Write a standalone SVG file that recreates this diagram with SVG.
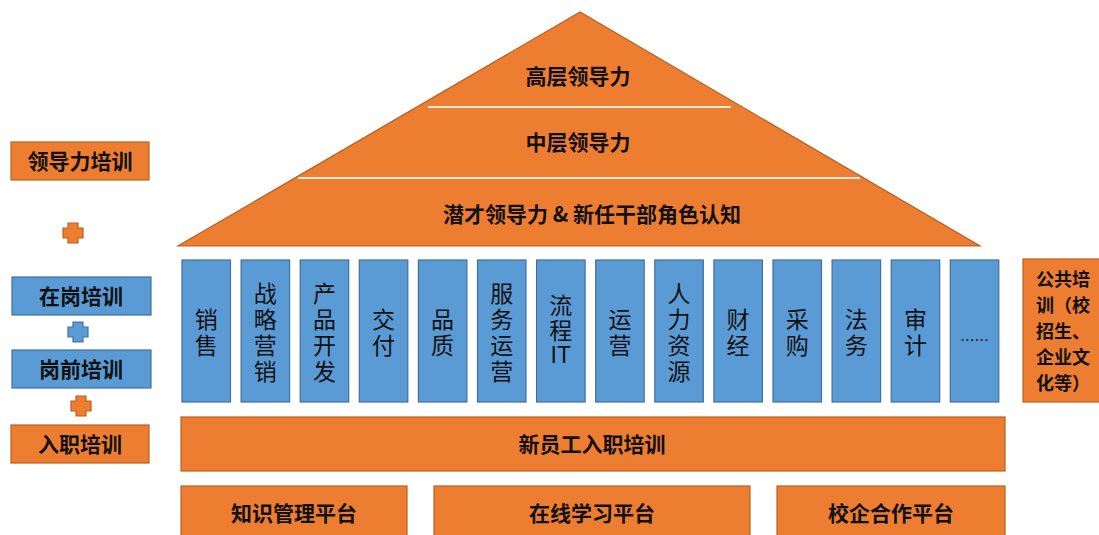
<svg xmlns="http://www.w3.org/2000/svg" width="1099" height="535" viewBox="0 0 1099 535">
<style>
  .or{fill:#ED7D31;stroke:#B9601F;stroke-width:1.2}
  .bl{fill:#5B9BD5;stroke:#41719C;stroke-width:1.2}
  .tb{font-family:"Noto Sans CJK SC","Liberation Sans",sans-serif;font-weight:bold;fill:#111;text-anchor:middle}
  .tc{font-family:"Noto Sans CJK SC","Liberation Sans",sans-serif;font-size:23px;fill:#111;text-anchor:middle;writing-mode:vertical-rl;letter-spacing:3px}
  .sep{stroke:#FBE9DA;stroke-width:2}
</style>
<rect width="1099" height="535" fill="#fff"/>

<g id="pyramid">
  <polygon points="580,12 178,246 980,246" class="or"/>
  <line x1="428" y1="107" x2="731" y2="107" class="sep"/>
  <line x1="298" y1="178" x2="860" y2="178" class="sep"/>
  <text class="tb" font-size="21" x="578" y="83.5">高层领导力</text>
  <text class="tb" font-size="21" x="578" y="149.5">中层领导力</text>
  <text class="tb" font-size="21" x="592" y="221.5">潜才领导力 &amp; 新任干部角色认知</text>
</g>

<g id="left-leadership">
  <rect x="11" y="142" width="138" height="38" class="or"/>
  <text class="tb" font-size="21" x="80" y="168.5">领导力培训</text>
</g>
<g id="left-onjob">
  <rect x="12" y="277" width="139" height="38" class="bl"/>
  <text class="tb" font-size="21" x="81" y="303.5">在岗培训</text>
</g>
<g id="left-prejob">
  <rect x="12" y="350" width="139" height="38" class="bl"/>
  <text class="tb" font-size="21" x="81" y="376.5">岗前培训</text>
</g>
<g id="left-entry">
  <rect x="11" y="425" width="138" height="38" class="or"/>
  <text class="tb" font-size="21" x="80" y="451.5">入职培训</text>
</g>

<g id="connectors">
  <path d="M68,223 h10 v5 h5 v10 h-5 v5 h-10 v-5 h-5 v-10 h5 z" class="or"/>
  <path d="M73,322 h10 v5 h5 v10 h-5 v5 h-10 v-5 h-5 v-10 h5 z" class="bl"/>
  <path d="M76,396 h10 v5 h5 v10 h-5 v5 h-10 v-5 h-5 v-10 h5 z" class="or"/>
</g>

<g id="col-1"><rect x="182" y="260" width="48.5" height="142" class="bl"/><text class="tc" x="206.2" y="334">销售</text></g>
<g id="col-2"><rect x="241.1" y="260" width="48.5" height="142" class="bl"/><text class="tc" x="265.3" y="334">战略营销</text></g>
<g id="col-3"><rect x="300.2" y="260" width="48.5" height="142" class="bl"/><text class="tc" x="324.4" y="334">产品开发</text></g>
<g id="col-4"><rect x="359.3" y="260" width="48.5" height="142" class="bl"/><text class="tc" x="383.5" y="334">交付</text></g>
<g id="col-5"><rect x="418.4" y="260" width="48.5" height="142" class="bl"/><text class="tc" x="442.6" y="334">品质</text></g>
<g id="col-6"><rect x="477.5" y="260" width="48.5" height="142" class="bl"/><text class="tc" x="501.7" y="334">服务运营</text></g>
<g id="col-7"><rect x="536.6" y="260" width="48.5" height="142" class="bl"/><text class="tc" x="560.8" y="318.5" style="letter-spacing:2px">流程</text><text x="560.8" y="363" style="font-family:'Liberation Sans',sans-serif;font-size:23px;fill:#111;text-anchor:middle">IT</text></g>
<g id="col-8"><rect x="595.7" y="260" width="48.5" height="142" class="bl"/><text class="tc" x="619.9" y="334">运营</text></g>
<g id="col-9"><rect x="654.8" y="260" width="48.5" height="142" class="bl"/><text class="tc" x="679" y="334">人力资源</text></g>
<g id="col-10"><rect x="713.9" y="260" width="48.5" height="142" class="bl"/><text class="tc" x="738.1" y="334">财经</text></g>
<g id="col-11"><rect x="773" y="260" width="48.5" height="142" class="bl"/><text class="tc" x="797.2" y="334">采购</text></g>
<g id="col-12"><rect x="832.1" y="260" width="48.5" height="142" class="bl"/><text class="tc" x="856.3" y="334">法务</text></g>
<g id="col-13"><rect x="891.2" y="260" width="48.5" height="142" class="bl"/><text class="tc" x="915.4" y="334">审计</text></g>
<g id="col-14"><rect x="950.3" y="260" width="48.5" height="142" class="bl"/><text x="974.5" y="341" style="font-family:'Liberation Sans',sans-serif;font-size:17px;fill:#111;text-anchor:middle">......</text></g>

<g id="public-training">
  <rect x="1023" y="259" width="90" height="143" class="or"/>
  <text class="tb" font-size="18" style="text-anchor:start"><tspan x="1036" y="285.5">公共培</tspan><tspan x="1036" y="311.7">训（校</tspan><tspan x="1036" y="337.9">招生、</tspan><tspan x="1036" y="364.1">企业文</tspan><tspan x="1036" y="390.3">化等）</tspan></text>
</g>

<g id="new-employee">
  <rect x="181" y="417" width="824" height="54" class="or"/>
  <text class="tb" font-size="21" x="592" y="451.5">新员工入职培训</text>
</g>

<g id="platform-knowledge">
  <rect x="181" y="486" width="226" height="60" class="or"/>
  <text class="tb" font-size="21" x="294" y="520.5">知识管理平台</text>
</g>
<g id="platform-online">
  <rect x="434" y="486" width="316" height="60" class="or"/>
  <text class="tb" font-size="21" x="592" y="520.5">在线学习平台</text>
</g>
<g id="platform-school">
  <rect x="777" y="486" width="228" height="60" class="or"/>
  <text class="tb" font-size="21" x="891" y="520.5">校企合作平台</text>
</g>
</svg>
